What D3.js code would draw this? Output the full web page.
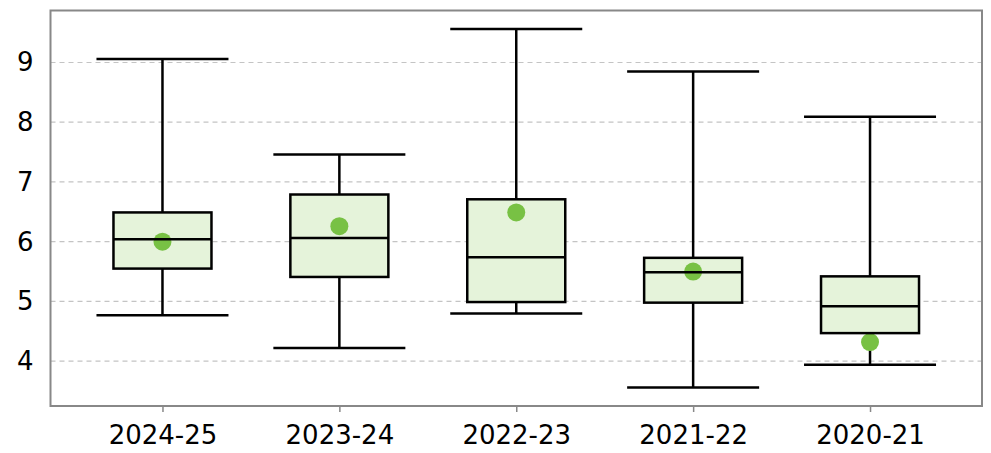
<!DOCTYPE html>
<html><head><meta charset="utf-8">
<script src="https://cdn.jsdelivr.net/npm/d3@7"></script>
<style>body{margin:0;background:#fff}svg{display:block}text{font-family:"DejaVu Sans",sans-serif}</style>
</head><body><svg id="c" width="991" height="453"></svg>
<script>
const categories = ["2024-25","2023-24","2022-23","2021-22","2020-21"];
const whiskerLow  = [4.77, 4.22, 4.80, 3.56, 3.94];
const q1          = [5.55, 5.41, 4.99, 4.98, 4.47];
const median      = [6.04, 6.06, 5.74, 5.49, 4.92];
const q3          = [6.49, 6.79, 6.71, 5.73, 5.42];
const whiskerHigh = [9.06, 7.46, 9.56, 8.85, 8.09];
const mean        = [6.00, 6.26, 6.49, 5.50, 4.32];
const yTicks = [4,5,6,7,8,9];

const svg = d3.select("#c");
const m = {l:50.5, r:982, t:10.5, b:406};
const x = d3.scalePoint().domain(categories).range([m.l, m.r]).padding(0.633);
const y = d3.scaleLinear().domain([3.25, 9.87]).range([m.b, m.t]);

// grid
svg.append("g").selectAll("line").data(yTicks).join("line")
  .attr("x1", m.l).attr("x2", m.r).attr("y1", d=>y(d)).attr("y2", d=>y(d))
  .attr("stroke", "#c4c4c4").attr("stroke-width", 1.2).attr("stroke-dasharray", "5,4");

// frame
svg.append("rect").attr("x", m.l).attr("y", m.t).attr("width", m.r-m.l).attr("height", m.b-m.t)
  .attr("fill","none").attr("stroke","#888").attr("stroke-width",2);

const data = categories.map((c,i)=>({c, lo:whiskerLow[i], q1:q1[i], med:median[i], q3:q3[i], hi:whiskerHigh[i], mean:mean[i]}));
const boxW = 98, capW = 132;
const g = svg.append("g").selectAll("g").data(data).join("g");
g.append("line").attr("x1",d=>x(d.c)).attr("x2",d=>x(d.c)).attr("y1",d=>y(d.hi)).attr("y2",d=>y(d.q3)).attr("stroke","#000").attr("stroke-width",2.5);
g.append("line").attr("x1",d=>x(d.c)).attr("x2",d=>x(d.c)).attr("y1",d=>y(d.q1)).attr("y2",d=>y(d.lo)).attr("stroke","#000").attr("stroke-width",2.5);
g.append("line").attr("x1",d=>x(d.c)-capW/2).attr("x2",d=>x(d.c)+capW/2).attr("y1",d=>y(d.hi)).attr("y2",d=>y(d.hi)).attr("stroke","#000").attr("stroke-width",2.5);
g.append("line").attr("x1",d=>x(d.c)-capW/2).attr("x2",d=>x(d.c)+capW/2).attr("y1",d=>y(d.lo)).attr("y2",d=>y(d.lo)).attr("stroke","#000").attr("stroke-width",2.5);
g.append("rect").attr("x",d=>x(d.c)-boxW/2).attr("width",boxW).attr("y",d=>y(d.q3)).attr("height",d=>y(d.q1)-y(d.q3))
  .attr("fill","#e5f3da").attr("stroke","none");
g.append("circle").attr("cx",d=>x(d.c)).attr("cy",d=>y(d.mean)).attr("r",9).attr("fill","#78c144");
g.append("rect").attr("x",d=>x(d.c)-boxW/2).attr("width",boxW).attr("y",d=>y(d.q3)).attr("height",d=>y(d.q1)-y(d.q3))
  .attr("fill","none").attr("stroke","#000").attr("stroke-width",2.5);
g.append("line").attr("x1",d=>x(d.c)-boxW/2).attr("x2",d=>x(d.c)+boxW/2).attr("y1",d=>y(d.med)).attr("y2",d=>y(d.med)).attr("stroke","#000").attr("stroke-width",2.5);

// axes
const xa = svg.append("g").attr("transform",`translate(0,${m.b})`)
  .call(d3.axisBottom(x).tickSize(6).tickPadding(14));
xa.select(".domain").remove();
xa.selectAll("line").attr("stroke","#888").attr("stroke-width",1.5);
xa.selectAll("text").attr("font-size",26).attr("fill","#000").attr("font-family","DejaVu Sans");

const ya = svg.append("g").attr("transform",`translate(${m.l},0)`)
  .call(d3.axisLeft(y).tickValues(yTicks).tickFormat(d3.format("d")).tickSize(0).tickPadding(17));
ya.select(".domain").remove();
ya.selectAll("text").attr("font-size",26).attr("fill","#000").attr("font-family","DejaVu Sans");
</script></body></html>
